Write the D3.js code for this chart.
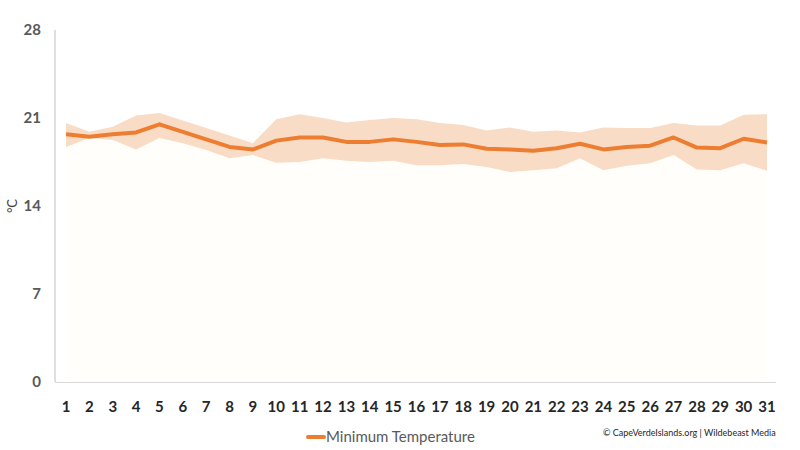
<!DOCTYPE html>
<html>
<head>
<meta charset="utf-8">
<script src="https://cdn.jsdelivr.net/npm/d3@7"></script>
<style>
  body { margin: 0; background: #fff; }
  text { font-family: Lato, "Open Sans", sans-serif; }
</style>
</head>
<body>
<script>
// days of the month
var days = d3.range(1, 32);
// average minimum temperature
var minTemp = [19.7, 19.5, 19.7, 19.85, 20.5, 19.9, 19.3, 18.7, 18.5, 19.2,
               19.45, 19.45, 19.1, 19.1, 19.3, 19.1, 18.85, 18.9, 18.55, 18.5,
               18.4, 18.6, 18.95, 18.5, 18.7, 18.8, 19.45, 18.65, 18.6, 19.35, 19.05];
// range band (upper / lower)
var bandHigh = [20.6, 19.9, 20.3, 21.2, 21.4, 20.8, 20.2, 19.6, 19.0, 20.9,
                21.3, 21.0, 20.65, 20.85, 21.0, 20.9, 20.6, 20.45, 20.0, 20.25,
                19.9, 20.0, 19.85, 20.25, 20.2, 20.2, 20.6, 20.4, 20.4, 21.25, 21.3];
var bandLow = [18.7, 19.4, 19.25, 18.5, 19.4, 19.0, 18.45, 17.8, 18.05, 17.45,
               17.5, 17.8, 17.6, 17.5, 17.6, 17.25, 17.25, 17.35, 17.1, 16.7,
               16.85, 17.0, 17.8, 16.85, 17.2, 17.4, 18.05, 16.9, 16.85, 17.4, 16.8];
var yTicks = [0, 7, 14, 21, 28];

var width = 800, height = 450;
var svg = d3.select("body").append("svg")
    .attr("width", width)
    .attr("height", height);

var x = d3.scaleLinear().domain([1, 31]).range([66, 767]);
var y = d3.scaleLinear().domain([0, 28]).range([382, 30]);

var data = days.map(function(d, i) {
    return {day: d, min: minTemp[i], hi: bandHigh[i], lo: bandLow[i]};
});

// faint base fill under the band
svg.append("path")
    .datum(data)
    .attr("fill", "#fffefb")
    .attr("d", d3.area()
        .x(function(d) { return x(d.day); })
        .y0(y(0))
        .y1(function(d) { return y(d.lo); }));

// range band
svg.append("path")
    .datum(data)
    .attr("fill", "#f9dcc6")
    .attr("d", d3.area()
        .x(function(d) { return x(d.day); })
        .y0(function(d) { return y(d.lo); })
        .y1(function(d) { return y(d.hi); }));

// axes
svg.append("line")
    .attr("x1", 55).attr("x2", 55)
    .attr("y1", y(28)).attr("y2", y(0))
    .attr("stroke", "#bfbfbf").attr("stroke-width", 1);
svg.append("line")
    .attr("x1", 55).attr("x2", 776)
    .attr("y1", y(0) + 0.5).attr("y2", y(0) + 0.5)
    .attr("stroke", "#d9d9d9").attr("stroke-width", 1);

// main line
svg.append("path")
    .datum(data)
    .attr("fill", "none")
    .attr("stroke", "#ed7d31")
    .attr("stroke-width", 4)
    .attr("stroke-linejoin", "round")
    .attr("d", d3.line()
        .x(function(d) { return x(d.day); })
        .y(function(d) { return y(d.min); }));

// y tick labels
svg.selectAll(".ylab")
    .data(yTicks)
    .enter().append("text")
    .attr("class", "ylab")
    .attr("x", 41)
    .attr("y", function(d) { return y(d); })
    .attr("dy", "0.36em")
    .attr("text-anchor", "end")
    .attr("font-size", 15)
    .attr("font-weight", "bold")
    .attr("fill", "#595959")
    .text(function(d) { return d; });

// x tick labels
svg.selectAll(".xlab")
    .data(days)
    .enter().append("text")
    .attr("class", "xlab")
    .attr("x", function(d) { return x(d); })
    .attr("y", 412)
    .attr("text-anchor", "middle")
    .attr("font-size", 15)
    .attr("font-weight", "bold")
    .attr("fill", "#262626")
    .text(function(d) { return d; });

// y axis title
svg.append("text")
    .attr("transform", "translate(17," + y(14) + ") rotate(-90)")
    .attr("text-anchor", "middle")
    .attr("font-size", 13)
    .attr("fill", "#404040")
    .text("°C");

// legend
svg.append("line")
    .attr("x1", 308).attr("x2", 324)
    .attr("y1", 437).attr("y2", 437)
    .attr("stroke", "#ed7d31").attr("stroke-width", 4)
    .attr("stroke-linecap", "round");
svg.append("text")
    .attr("x", 326)
    .attr("y", 442)
    .attr("font-size", 15)
    .attr("fill", "#595959")
    .text("Minimum Temperature");

// credit
svg.append("text")
    .attr("x", 603)
    .attr("y", 436)
    .attr("font-size", 9)
    .attr("fill", "#262626")
    .text("© CapeVerdeIslands.org | Wildebeast Media");
</script>
</body>
</html>
